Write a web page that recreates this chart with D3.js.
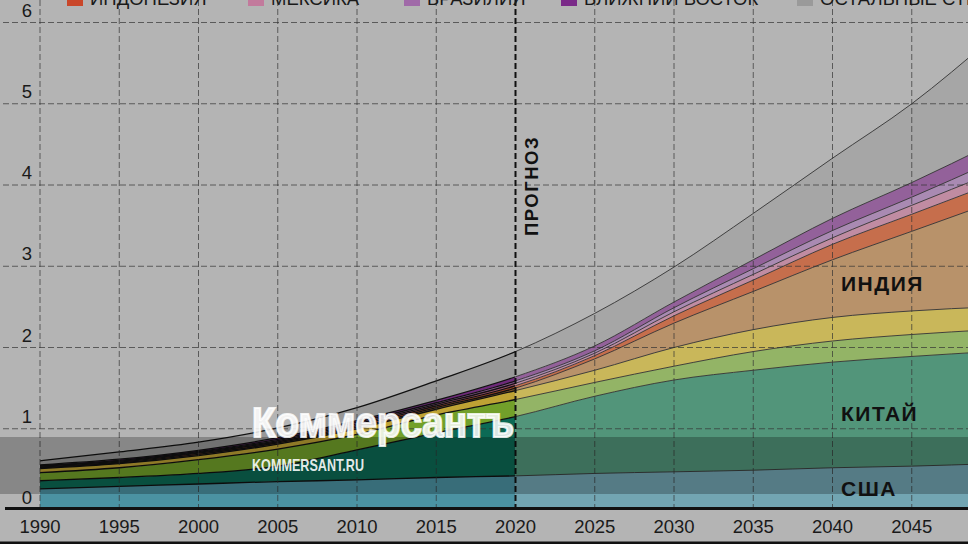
<!DOCTYPE html>
<html>
<head>
<meta charset="utf-8">
<script src="https://cdn.jsdelivr.net/npm/d3@7"></script>
<style>
  body { margin: 0; background: #b4b4b4; }
  svg { display: block; font-family: "Liberation Sans", Arial, sans-serif; }
</style>
</head>
<body>
<svg id="chart"></svg>
<script>
// years and layer thicknesses (bottom to top)
const years      = [1990, 1995, 2000, 2005, 2010, 2015, 2020, 2025, 2030, 2035, 2040, 2045, 2050];
const usa        = [0.26, 0.29, 0.32, 0.35, 0.37, 0.40, 0.42, 0.45, 0.47, 0.49, 0.52, 0.54, 0.57];
const china      = [0.10, 0.11, 0.13, 0.19, 0.37, 0.55, 0.73, 0.95, 1.13, 1.23, 1.30, 1.35, 1.38];
const europe     = [0.10, 0.12, 0.17, 0.21, 0.19, 0.22, 0.21, 0.17, 0.17, 0.23, 0.26, 0.27, 0.27];
const japan      = [0.05, 0.05, 0.05, 0.06, 0.07, 0.07, 0.11, 0.15, 0.23, 0.27, 0.29, 0.29, 0.28];
const india      = [0.01, 0.01, 0.015, 0.015, 0.02, 0.02, 0.03, 0.14, 0.30, 0.47, 0.71, 0.98, 1.28];
const indonesia  = [0.01, 0.01, 0.015, 0.015, 0.02, 0.02, 0.03, 0.04, 0.09, 0.14, 0.19, 0.21, 0.23];
const mexico     = [0.01, 0.01, 0.01, 0.015, 0.02, 0.02, 0.03, 0.03, 0.05, 0.07, 0.08, 0.11, 0.13];
const brazil     = [0.005, 0.01, 0.01, 0.015, 0.02, 0.02, 0.03, 0.03, 0.05, 0.07, 0.09, 0.10, 0.14];
const middleEast = [0.01, 0.015, 0.015, 0.02, 0.02, 0.03, 0.05, 0.06, 0.07, 0.11, 0.15, 0.18, 0.22];
const rest       = [0.05, 0.09, 0.10, 0.12, 0.16, 0.24, 0.31, 0.40, 0.43, 0.57, 0.74, 0.97, 1.30];

const yTicks = [0, 1, 2, 3, 4, 5, 6];
const xTicks = [1990, 1995, 2000, 2005, 2010, 2015, 2020, 2025, 2030, 2035, 2040, 2045];
const forecastYear = 2020;

const keys = ['usa', 'china', 'europe', 'japan', 'india', 'indonesia', 'mexico', 'brazil', 'middleEast', 'rest'];
const series = { usa, china, europe, japan, india, indonesia, mexico, brazil, middleEast, rest };
const histColors = {
  usa: '#4b92a2', china: '#0c6a55', europe: '#72a02a', japan: '#bea234', india: '#8a5a2a',
  indonesia: '#a04426', mexico: '#a0506e', brazil: '#8a5890', middleEast: '#6e2a7a', rest: '#989898'
};
const foreColors = {
  usa: '#72a5b2', china: '#52957a', europe: '#93b466', japan: '#c9b75a', india: '#b8926a',
  indonesia: '#c66e4c', mexico: '#c08ca2', brazil: '#a98ab2', middleEast: '#93619a', rest: '#a6a6a6'
};

const legendNames  = ['ИНДОНЕЗИЯ', 'МЕКСИКА', 'БРАЗИЛИЯ', 'БЛИЖНИЙ ВОСТОК', 'ОСТАЛЬНЫЕ СТРАНЫ'];
const legendColors = ['#c9472a', '#c27a9c', '#a06aa8', '#7a2a88', '#9a9a9a'];
const legendX      = [67, 248, 404, 561, 797];

const width = 968, height = 544;
const svg = d3.select('#chart').attr('width', width).attr('height', height);

const x = d3.scaleLinear().domain([1990, 2050]).range([40, 991]);
const y = d3.scaleLinear().domain([0, 6]).range([510, 22.5]);

const table = years.map((yr, i) => {
  const row = { year: yr };
  keys.forEach(k => row[k] = series[k][i]);
  return row;
});
const stacked = d3.stack().keys(keys)(table);

const area = d3.area()
  .x(d => x(d.data.year))
  .y0(d => y(d[0]))
  .y1(d => y(d[1]))
  .curve(d3.curveMonotoneX);
const topLine = d3.line()
  .x(d => x(d.data.year))
  .y(d => y(d[1]))
  .curve(d3.curveMonotoneX);

const defs = svg.append('defs');
defs.append('clipPath').attr('id', 'hist')
  .append('rect').attr('x', 0).attr('y', 0).attr('width', x(forecastYear)).attr('height', height);
defs.append('clipPath').attr('id', 'fore')
  .append('rect').attr('x', x(forecastYear)).attr('y', 0).attr('width', width).attr('height', height);

// history part
const hist = svg.append('g').attr('clip-path', 'url(#hist)');
hist.selectAll('path.area').data(stacked).join('path')
  .attr('class', 'area')
  .attr('d', area)
  .attr('fill', d => histColors[d.key]);
hist.selectAll('path.line').data(stacked).join('path')
  .attr('class', 'line')
  .attr('d', topLine)
  .attr('fill', 'none')
  .attr('stroke', '#111')
  .attr('stroke-width', 1.3);

// forecast part
const fore = svg.append('g').attr('clip-path', 'url(#fore)');
fore.selectAll('path.area').data(stacked).join('path')
  .attr('class', 'area')
  .attr('d', area)
  .attr('fill', d => foreColors[d.key]);
fore.selectAll('path.line').data(stacked).join('path')
  .attr('class', 'line')
  .attr('d', topLine)
  .attr('fill', 'none')
  .attr('stroke', '#333')
  .attr('stroke-width', 0.9);

// grid
const grid = svg.append('g').attr('stroke', '#333').attr('stroke-opacity', 0.7)
  .attr('stroke-dasharray', '6,3').attr('stroke-width', 1);
grid.selectAll('line.h').data(yTicks.filter(t => t > 0)).join('line')
  .attr('class', 'h')
  .attr('x1', 3).attr('x2', width)
  .attr('y1', d => y(d)).attr('y2', d => y(d));
grid.selectAll('line.v').data(xTicks.filter(t => t !== forecastYear)).join('line')
  .attr('class', 'v')
  .attr('x1', d => x(d)).attr('x2', d => x(d))
  .attr('y1', 0).attr('y2', y(0));

svg.append('line')
  .attr('x1', x(forecastYear)).attr('x2', x(forecastYear))
  .attr('y1', 0).attr('y2', y(0))
  .attr('stroke', '#111').attr('stroke-width', 2)
  .attr('stroke-dasharray', '6,3');

svg.append('text')
  .attr('transform', `translate(${x(forecastYear) + 16}, 186) rotate(-90)`)
  .attr('text-anchor', 'middle')
  .attr('dominant-baseline', 'central')
  .attr('font-size', 18.5)
  .attr('font-weight', 'bold')
  .attr('letter-spacing', 1.5)
  .attr('fill', '#111')
  .text('ПРОГНОЗ');

// axis baseline
svg.append('line')
  .attr('x1', 5).attr('x2', width)
  .attr('y1', 508.5).attr('y2', 508.5)
  .attr('stroke', '#111').attr('stroke-width', 3);

// y labels
svg.append('g').selectAll('text').data(yTicks).join('text')
  .attr('x', 32)
  .attr('y', d => y(d) - 6)
  .attr('text-anchor', 'end')
  .attr('font-size', 18.5)
  .attr('fill', '#1a1a1a')
  .text(d => d);

// x labels
svg.append('g').selectAll('text').data(xTicks).join('text')
  .attr('x', d => x(d))
  .attr('y', 533)
  .attr('text-anchor', 'middle')
  .attr('font-size', 18.5)
  .attr('fill', '#1a1a1a')
  .text(d => d);

// legend (second row, cut at the top as in the source)
const legend = svg.append('g');
legendNames.forEach((name, i) => {
  legend.append('rect')
    .attr('x', legendX[i]).attr('y', -10)
    .attr('width', 16).attr('height', 16)
    .attr('fill', legendColors[i]);
  legend.append('text')
    .attr('x', legendX[i] + 23).attr('y', 5)
    .attr('font-size', 18.5)
    .attr('fill', '#1a1a1a')
    .text(name);
});

// dark watermark band
svg.append('rect')
  .attr('x', 0).attr('y', 437).attr('width', width).attr('height', 57)
  .attr('fill', '#000').attr('fill-opacity', 0.25);

// series labels
const labels = [['ИНДИЯ', 283], ['КИТАЙ', 413], ['США', 488]];
svg.append('g').selectAll('text').data(labels).join('text')
  .attr('x', 841)
  .attr('y', d => d[1])
  .attr('dominant-baseline', 'central')
  .attr('font-size', 21)
  .attr('font-weight', 'bold')
  .attr('letter-spacing', 1.5)
  .attr('fill', '#111')
  .text(d => d[0]);

// bottom rule
svg.append('rect')
  .attr('x', 0).attr('y', 541.5).attr('width', width).attr('height', 3)
  .attr('fill', '#111');

// watermark
svg.append('text')
  .attr('x', 252).attr('y', 437)
  .attr('font-size', 42)
  .attr('font-weight', 'bold')
  .attr('textLength', 262)
  .attr('lengthAdjust', 'spacingAndGlyphs')
  .attr('fill', '#fff').attr('fill-opacity', 0.85)
  .attr('stroke', '#fff').attr('stroke-opacity', 0.85).attr('stroke-width', 2.2)
  .attr('paint-order', 'stroke')
  .text('Коммерсантъ');
svg.append('text')
  .attr('x', 252).attr('y', 471)
  .attr('font-size', 17)
  .attr('font-weight', 'bold')
  .attr('textLength', 112)
  .attr('lengthAdjust', 'spacingAndGlyphs')
  .attr('fill', '#fff').attr('fill-opacity', 0.9)
  .text('KOMMERSANT.RU');
</script>
</body>
</html>
